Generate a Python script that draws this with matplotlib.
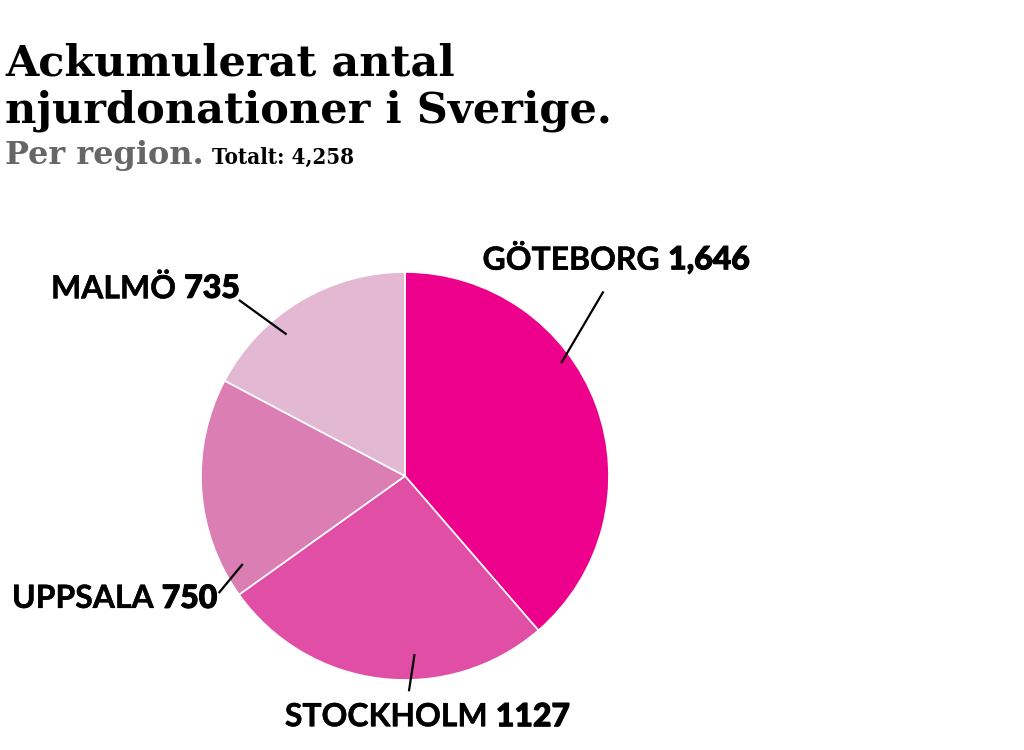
import matplotlib
matplotlib.use("Agg")
import matplotlib.pyplot as plt
import matplotlib.patheffects as pe
import numpy as np

# Data
regions = ["GÖTEBORG", "STOCKHOLM", "UPPSALA", "MALMÖ"]
values = [1646, 1127, 750, 735]
value_labels = ["1,646", "1127", "750", "735"]
colors = ["#EC008C", "#E04FA5", "#DB7EB4", "#E2B8D2"]

TITLE_FONT = "DejaVu Serif"
LABEL_FONT = "Lato"

fig = plt.figure(figsize=(10.24, 7.5), dpi=100)
fig.patch.set_facecolor("white")

# pie axes: centre ~ (405, 476) px, radius ~204 px
ax = fig.add_axes([201 / 1024, 70 / 750, 408 / 1024, 408 / 750])
ax.pie(values, colors=colors, startangle=90, counterclock=False, radius=1,
       wedgeprops=dict(edgecolor="white", linewidth=1.2))
ax.set_xlim(-1, 1)
ax.set_ylim(-1, 1)
ax.set_aspect("equal")
ax.axis("off")

# leader line (inner point angle/radius, outer point) and label anchor
leader_inner = [(36, 0.95), (-87, 0.88), (208.6, 0.91), (130, 0.91)]
leader_outer = [(0.97, 0.90), (0.02, -1.05), (-0.91, -0.57), (-0.81, 0.86)]
label_pos = [(0.38, 1.06), (0.11, -1.18), (-0.92, -0.60), (-0.81, 0.92)]
label_ha = ["left", "center", "right", "right"]

for (ang, r), (ox, oy) in zip(leader_inner, leader_outer):
    ix, iy = r * np.cos(np.radians(ang)), r * np.sin(np.radians(ang))
    ax.plot([ix, ox], [iy, oy], color="black", lw=1.6, clip_on=False)

fig.canvas.draw()
renderer = fig.canvas.get_renderer()

# names bold, numbers a touch heavier (thin stroke fakes the heavier weight)
bold = [pe.withStroke(linewidth=0.3, foreground="black")]
heavy = [pe.withStroke(linewidth=0.8, foreground="black")]

for name, num, (lx, ly), ha in zip(regions, value_labels, label_pos, label_ha):
    kw = dict(fontsize=23, family=LABEL_FONT, va="center", color="black")
    t1 = ax.text(0, 0, name + " ", fontweight="bold", path_effects=bold, **kw)
    t2 = ax.text(0, 0, num, fontweight="black", path_effects=heavy, **kw)
    w1 = t1.get_window_extent(renderer).width
    w2 = t2.get_window_extent(renderer).width
    total = w1 + w2
    px, py = ax.transData.transform((lx, ly))
    if ha == "left":
        start = px
    elif ha == "right":
        start = px - total
    else:
        start = px - total / 2
    inv = ax.transData.inverted()
    x1, y1 = inv.transform((start, py))
    x2, _ = inv.transform((start + w1, py))
    t1.set_position((x1, y1))
    t2.set_position((x2, y1))
    t1.set_clip_on(False)
    t2.set_clip_on(False)

# Titles
fig.text(5 / 1024, 1 - 75 / 750, "Ackumulerat antal", fontsize=31, fontweight="bold",
         family=TITLE_FONT, color="black", va="baseline")
fig.text(5 / 1024, 1 - 123 / 750, "njurdonationer i Sverige.", fontsize=31, fontweight="bold",
         family=TITLE_FONT, color="black", va="baseline")
t = fig.text(5 / 1024, 1 - 164 / 750, "Per region.", fontsize=23, fontweight="bold",
             family=TITLE_FONT, color="#666666", va="baseline")
fig.canvas.draw()
bb = t.get_window_extent(renderer)
fig.text((bb.x1 + 8) / 1024, 1 - 164 / 750, "Totalt: 4,258", fontsize=16, fontweight="bold",
         family=TITLE_FONT, fontstretch="condensed", color="black", va="baseline")

fig.savefig("out.png", dpi=100, facecolor="white")
